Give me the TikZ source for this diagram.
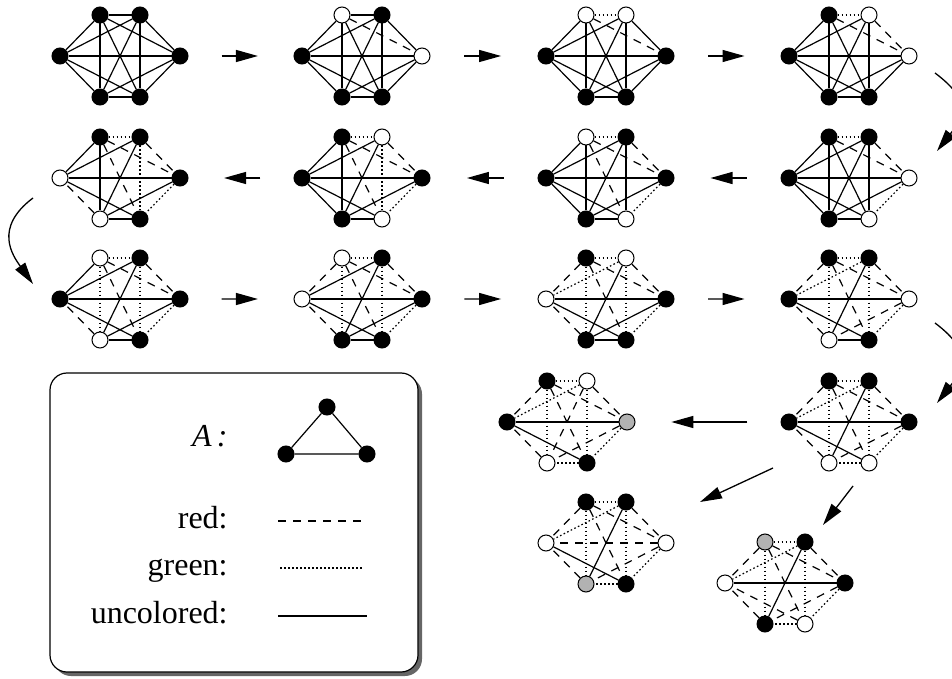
\documentclass[tikz,border=0pt]{standalone}
\usepackage{fontspec}
\setmainfont{Liberation Serif}
\usetikzlibrary{arrows.meta}
\usetikzlibrary{calc}
\usetikzlibrary{shadows}

\tikzset{
  vtx/.style={circle, draw, fill=black, line width=0.5pt, minimum size=8pt, inner sep=0pt},
  wht/.style={fill=white},
  gry/.style={fill=black!30},
  uncol/.style={line width=0.6pt},
  redE/.style={uncol, dash pattern=on 4pt off 3.5pt},
  greenE/.style={uncol, dash pattern=on 0.8pt off 1.2pt},
  flow/.style={line width=0.65pt, -{Triangle[length=11pt, width=6pt]}},
  lgtext/.style={anchor=base east, inner sep=0pt, font=\fontsize{16}{19}\selectfont},
}

% K6 on a hexagon: a,b top, c right, d,e bottom, f left
\newcommand{\hexgraph}[3]{%
  \begin{scope}[shift={#2}, #3]
    \coordinate (#1) at (0,0);
    \foreach \vx/\pos in {a/{(-20,-41)}, b/{(20,-41)}, c/{(60,0)}, d/{(20,41)}, e/{(-20,41)}, f/{(-60,0)}}
      \node (#1\vx) [vtx, v-\vx/.try] at \pos {};
    \foreach \from/\to in {a/b,a/c,a/d,a/e,a/f,b/c,b/d,b/e,b/f,c/d,c/e,c/f,d/e,d/f,e/f}
      \draw [uncol, e-\from\to/.try] (#1\from) -- (#1\to);
  \end{scope}}

\begin{document}
\begin{tikzpicture}[x=0.5pt, y=-0.5pt]
\useasboundingbox (0,0) rectangle (952,679);

% row 1
\hexgraph{g1}{(120,56)}{}
\tikzset{e-ac/.style=redE}
\hexgraph{g2}{(362,56)}{v-a/.style=wht, v-c/.style=wht}
\tikzset{e-ab/.style=greenE}
\hexgraph{g3}{(606,56)}{v-a/.style=wht, v-b/.style=wht}
\tikzset{e-bc/.style=redE}
\hexgraph{g4}{(849,56)}{v-b/.style=wht, v-c/.style=wht}

% row 2, right to left
\tikzset{e-cd/.style=greenE}
\hexgraph{g5}{(849,178)}{v-c/.style=wht, v-d/.style=wht}
\tikzset{e-ad/.style=redE}
\hexgraph{g6}{(606,178)}{v-a/.style=wht, v-d/.style=wht}
\tikzset{e-bd/.style=greenE}
\hexgraph{g7}{(362,178)}{v-b/.style=wht, v-d/.style=wht}
\tikzset{e-ef/.style=redE}
\hexgraph{g8}{(120,178)}{v-e/.style=wht, v-f/.style=wht}

% row 3
\tikzset{e-ae/.style=greenE}
\hexgraph{g9}{(120,299)}{v-a/.style=wht, v-e/.style=wht}
\tikzset{e-af/.style=redE}
\hexgraph{g10}{(362,299)}{v-a/.style=wht, v-f/.style=wht}
\tikzset{e-bf/.style=greenE}
\hexgraph{g11}{(606,299)}{v-b/.style=wht, v-f/.style=wht}
\tikzset{e-ce/.style=redE}
\hexgraph{g12}{(849,299)}{v-c/.style=wht, v-e/.style=wht}

% last green edge, then three red endings
\tikzset{e-de/.style=greenE}
\hexgraph{g13}{(849,422)}{v-d/.style=wht, v-e/.style=wht}
\hexgraph{g14}{(567,422)}{v-b/.style=wht, v-e/.style=wht, v-c/.style=gry, e-be/.style=redE}
\hexgraph{g15}{(606,543)}{v-c/.style=wht, v-f/.style=wht, v-e/.style=gry, e-cf/.style=redE}
\hexgraph{g16}{(785,583)}{v-d/.style=wht, v-f/.style=wht, v-a/.style=gry, e-df/.style=redE}

% moves
\foreach \s/\t in {g1/g2, g2/g3, g3/g4, g5/g6, g6/g7, g7/g8, g9/g10, g10/g11, g11/g12}
  \draw[flow] ($(\s)!.42!(\t)$) -- ($(\s)!.57!(\t)$);
\draw[flow] ($(g4)+(86,17)$) .. controls +(40,30) and +(25,-32) .. ($(g5)+(88,-27)$);
\draw[flow] ($(g8)+(-87,20)$) .. controls +(-40,30) and +(-20,-28) .. ($(g9)+(-87,-15)$);
\draw[flow] ($(g12)+(86,24)$) .. controls +(40,30) and +(25,-32) .. ($(g13)+(88,-19)$);
\draw[flow] ($(g13)!.36!(g14)$) -- ($(g13)!.63!(g14)$);
\draw[flow] ($(g13)+(-76,46)$) -- ($(g15)+(94,-41)$);
\draw[flow] ($(g13)+(4,64)$) -- ($(g16)+(38,-58)$);

% legend
\node (legend) [draw, line width=0.6pt, rounded corners=8.5pt, fill=white,
  minimum width=184pt, minimum height=149.5pt,
  drop shadow={shadow xshift=2pt, shadow yshift=-2pt, fill=black!60, opacity=1}] at (234,522.5) {};
\node (lblA) [lgtext] at (228,446) {\itshape A\,:};
\node (t1) [vtx] at (327,407) {};
\node (t2) [vtx] at (286,454) {};
\node (t3) [vtx] at (367,454) {};
\draw[uncol] (t1) -- (t2) (t2) -- (t3) (t3) -- (t1);
\node (lblred) [lgtext] at (228,528) {red:};
\coordinate (red1) at (278,521);
\coordinate (red2) at (367,521);
\draw[redE] (red1) -- (red2);
\node (lblgreen) [lgtext] at (228,575) {green:};
\coordinate (green1) at (280,568);
\coordinate (green2) at (363,568);
\draw[greenE] (green1) -- (green2);
\node (lbluncol) [lgtext] at (228,623) {uncolored:};
\coordinate (uncol1) at (278,616);
\coordinate (uncol2) at (367,616);
\draw[uncol] (uncol1) -- (uncol2);
\end{tikzpicture}
\end{document}
